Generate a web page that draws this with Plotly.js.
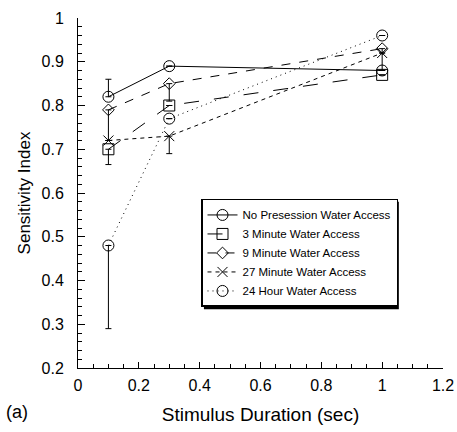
<!DOCTYPE html>
<html><head><meta charset="utf-8">
<script src="https://cdn.plot.ly/plotly-3.0.1.min.js"></script>
<style>body{margin:0;background:#fff}#c{width:457px;height:432px}</style>
</head><body><div id="c"></div>
<script>
const durations = [0.1, 0.3, 1.0];
const seriesNames = ["No Presession Water Access","3 Minute Water Access","9 Minute Water Access","27 Minute Water Access","24 Hour Water Access"];
const noPre = [0.82, 0.89, 0.88];
const min3 = [0.70, 0.80, 0.87];
const min9 = [0.79, 0.85, 0.93];
const min27 = [0.72, 0.73, 0.92];
const hr24 = [0.48, 0.77, 0.96];
const errUp = [[0.04,0,0],[0,0,0],[0,0,0],[0,0,0],[0,0,0]];
const errDown = [[0,0,0],[0.035,0,0],[0.07,0.04,0.05],[0,0.04,0],[0.19,0,0]];

const values = [noPre, min3, min9, min27, hr24];
const dashes = ["solid","longdash","dash","4px,4px","1px,4px"];
const symbols = ["circle-open","square-open","diamond-open","x-thin-open","circle-open"];
const sizes = [11,11,9,10,11];

const traces = values.map((v,i)=>({
  x: durations, y: v, name: seriesNames[i], type:'scatter', mode:'lines+markers',
  line:{color:'#000', width:1, dash:dashes[i]},
  marker:{symbol:symbols[i], size:sizes[i], color:'#000', line:{color:'#000', width:1}},
  error_y:{type:'data', symmetric:false, array:errUp[i], arrayminus:errDown[i], color:'#000', thickness:1, width:3}
}));

const layout = {
  width:457, height:432,
  margin:{l:78, r:14, t:18, b:64},
  paper_bgcolor:'#fff', plot_bgcolor:'#fff',
  font:{family:'Liberation Sans, Arial, sans-serif', color:'#000', size:16},
  showlegend:true,
  legend:{x:0.337, y:0.483, xanchor:'left', yanchor:'top', bgcolor:'#fff', bordercolor:'#000', borderwidth:1.5,
    font:{size:11.5}, tracegroupgap:0, itemwidth:30},
  xaxis:{range:[0,1.2], dtick:0.2, tick0:0, showgrid:false, zeroline:false, showline:true, linecolor:'#000', linewidth:1,
    ticks:'inside', ticklen:6, tickcolor:'#000', ticklabelstandoff:3,
    minor:{dtick:0.05, ticks:'inside', ticklen:4, tickcolor:'#000'},
    title:{text:'Stimulus Duration (sec)', font:{size:19}, standoff:14}},
  yaxis:{range:[0.2,1], dtick:0.1, tick0:0.2, showgrid:false, zeroline:false, showline:true, linecolor:'#000', linewidth:1,
    ticks:'inside', ticklen:7, tickcolor:'#000', ticklabelstandoff:10,
    minor:{dtick:0.02, ticks:'inside', ticklen:4, tickcolor:'#000'},
    title:{text:'Sensitivity Index', font:{size:17}, standoff:6}},
  annotations:[{text:'(a)', xref:'paper', yref:'paper', x:-0.204, y:-0.126, xanchor:'left', yanchor:'middle', showarrow:false, font:{size:18}}],
  shapes:[{type:'rect', xref:'paper', yref:'paper', x0:0.345, x1:0.879, y0:0.168, y1:0.475,
    fillcolor:'#000', line:{width:0}, layer:'above'}]
};
Plotly.newPlot('c', traces, layout, {displayModeBar:false, staticPlot:true});
</script></body></html>
